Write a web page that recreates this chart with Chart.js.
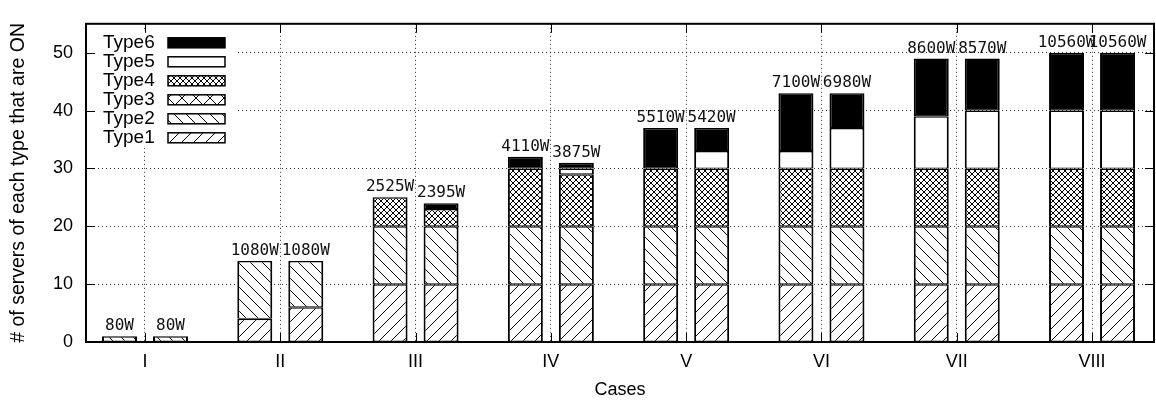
<!DOCTYPE html>
<html>
<head>
<meta charset="utf-8">
<title>Servers ON per case</title>
<script src="https://cdn.jsdelivr.net/npm/chart.js@4.4.1/dist/chart.umd.min.js"></script>
<style>
  html, body { margin: 0; padding: 0; background: #fff; }
  canvas { display: block; }
</style>
</head>
<body>
<canvas id="chart" width="1156" height="403"></canvas>
<script>
const cases = ['I', 'II', 'III', 'IV', 'V', 'VI', 'VII', 'VIII'];
const typeNames = ['Type1', 'Type2', 'Type3', 'Type4', 'Type5', 'Type6'];

// left bar of every case
const type1A = [0, 4, 10, 10, 10, 10, 10, 10];
const type2A = [1, 10, 10, 10, 10, 10, 10, 10];
const type3A = [0, 0, 0, 0, 0, 0, 0, 0];
const type4A = [0, 0, 5, 10, 10, 10, 10, 10];
const type5A = [0, 0, 0, 0, 0, 3, 9, 10];
const type6A = [0, 0, 0, 2, 7, 10, 10, 10];
const powerA = [80, 1080, 2525, 4110, 5510, 7100, 8600, 10560];

// right bar of every case
const type1B = [0, 6, 10, 10, 10, 10, 10, 10];
const type2B = [1, 8, 10, 10, 10, 10, 10, 10];
const type3B = [0, 0, 0, 0, 0, 0, 0, 0];
const type4B = [0, 0, 3, 9, 10, 10, 10, 10];
const type5B = [0, 0, 0, 1, 3, 7, 10, 10];
const type6B = [0, 0, 1, 1, 4, 6, 9, 10];
const powerB = [80, 1080, 2395, 3875, 5420, 6980, 8570, 10560];

const yMax = 55;
const yStep = 10;

const ctx = document.getElementById('chart').getContext('2d');

// gnuplot-ish fill patterns
function hatch(size, dirs) {
  const c = document.createElement('canvas');
  c.width = size;
  c.height = size;
  const g = c.getContext('2d');
  g.fillStyle = '#fff';
  g.fillRect(0, 0, size, size);
  g.strokeStyle = '#000';
  g.lineWidth = 1;
  g.beginPath();
  for (const o of [-size, 0, size]) {
    if (dirs.includes('/')) { g.moveTo(o, size); g.lineTo(o + size, 0); }
    if (dirs.includes('\\')) { g.moveTo(o, 0); g.lineTo(o + size, size); }
  }
  g.stroke();
  return ctx.createPattern(c, 'repeat');
}

const fills = [hatch(12, '/'), hatch(12, '\\'), hatch(14, '/\\'), hatch(6, '/\\'), '#fff', '#000'];

const seriesA = [type1A, type2A, type3A, type4A, type5A, type6A];
const seriesB = [type1B, type2B, type3B, type4B, type5B, type6B];

const datasets = [];
[['a', seriesA], ['b', seriesB]].forEach(([stack, series]) => {
  series.forEach((vals, t) => {
    datasets.push({
      label: typeNames[t],
      stack: stack,
      data: vals.map((v, i) => ({ x: i, y: v || null })),
      backgroundColor: fills[t],
      borderColor: '#000',
      borderWidth: { left: 2, right: 2, top: 1.5, bottom: 1 },
      borderSkipped: false,
      categoryPercentage: 0.754,
      barPercentage: 0.686
    });
  });
});

const sum = (series, i) => series.reduce((s, arr) => s + arr[i], 0);

const decor = {
  id: 'decor',
  afterDatasetsDraw(chart) {
    const c = chart.ctx;
    const area = chart.chartArea;
    const xs = chart.scales.x;
    const ys = chart.scales.y;

    // power labels on top of each bar
    c.save();
    c.font = '16px "DejaVu Sans Mono"';
    c.fillStyle = '#111';
    c.textAlign = 'center';
    c.textBaseline = 'alphabetic';
    [[seriesA, powerA, 1], [seriesB, powerB, 7]].forEach(([series, power, di]) => {
      const meta = chart.getDatasetMeta(di);
      cases.forEach((_, i) => {
        const x = meta.data[i].x;
        const y = ys.getPixelForValue(sum(series, i)) - 6;
        c.fillText(power[i] + 'W', x, y);
      });
    });
    c.restore();

    // key box, top left inside the plot
    c.save();
    c.fillStyle = '#fff';
    c.fillRect(area.left + 2, area.top + 7, 147, 117);
    c.font = '19px "Liberation Sans"';
    c.textBaseline = 'middle';
    c.textAlign = 'left';
    c.strokeStyle = '#000';
    c.lineWidth = 1.5;
    for (let t = typeNames.length - 1; t >= 0; t--) {
      const row = typeNames.length - 1 - t;
      const cy = area.top + 19 + row * 19;
      c.fillStyle = '#000';
      c.fillText(typeNames[t], area.left + 17, cy);
      c.fillStyle = fills[t];
      c.fillRect(area.left + 82, cy - 5, 57, 10);
      c.strokeRect(area.left + 82, cy - 5, 57, 10);
    }
    c.restore();

    // inward tick marks and frame
    c.save();
    c.strokeStyle = '#000';
    c.lineWidth = 1;
    c.beginPath();
    ys.ticks.forEach(t => {
      const y = Math.round(ys.getPixelForValue(t.value)) + 0.5;
      c.moveTo(area.left, y); c.lineTo(area.left + 9, y);
      c.moveTo(area.right, y); c.lineTo(area.right - 9, y);
    });
    xs.ticks.forEach(t => {
      const x = Math.round(xs.getPixelForValue(t.value)) + 0.5;
      c.moveTo(x, area.bottom); c.lineTo(x, area.bottom - 9);
      c.moveTo(x, area.top); c.lineTo(x, area.top + 9);
    });
    c.stroke();
    c.lineWidth = 2;
    c.strokeRect(area.left, area.top, area.right - area.left, area.bottom - area.top);
    c.restore();
  }
};

const gridStyle = {
  color: 'rgba(0,0,0,0.8)',
  lineWidth: 1,
  drawTicks: false,
  offset: false
};

new Chart(ctx, {
  type: 'bar',
  data: { datasets: datasets },
  plugins: [decor],
  options: {
    responsive: false,
    animation: false,
    layout: { padding: { top: 5, right: 2, left: 0, bottom: 0 } },
    plugins: {
      legend: { display: false },
      tooltip: { enabled: false }
    },
    scales: {
      x: {
        type: 'linear',
        offset: false,
        min: -0.436,
        max: 7.458,
        grid: gridStyle,
        border: { display: false, dash: [1, 3] },
        ticks: {
          stepSize: 1,
          includeBounds: false,
          autoSkip: false,
          maxRotation: 0,
          padding: 9,
          color: '#000',
          font: { family: 'Liberation Sans', size: 18 },
          callback: (v) => Number.isInteger(v) ? cases[v] : ''
        },
        title: {
          display: true,
          text: 'Cases',
          color: '#000',
          font: { family: 'Liberation Sans', size: 18 },
          padding: { top: 0, bottom: 2 }
        },
        afterFit: (s) => { s.height = 61; }
      },
      y: {
        stacked: true,
        min: 0,
        max: yMax,
        grid: gridStyle,
        border: { display: false, dash: [1, 3] },
        ticks: {
          stepSize: yStep,
          includeBounds: false,
          padding: 13,
          color: '#000',
          font: { family: 'Liberation Sans', size: 18 }
        },
        title: {
          display: true,
          text: '# of servers of each type that are ON',
          color: '#000',
          font: { family: 'Liberation Sans', size: 19.5 },
          padding: { top: 7, bottom: 0 }
        },
        afterFit: (s) => { s.width = 86; }
      }
    }
  }
});
</script>
</body>
</html>
